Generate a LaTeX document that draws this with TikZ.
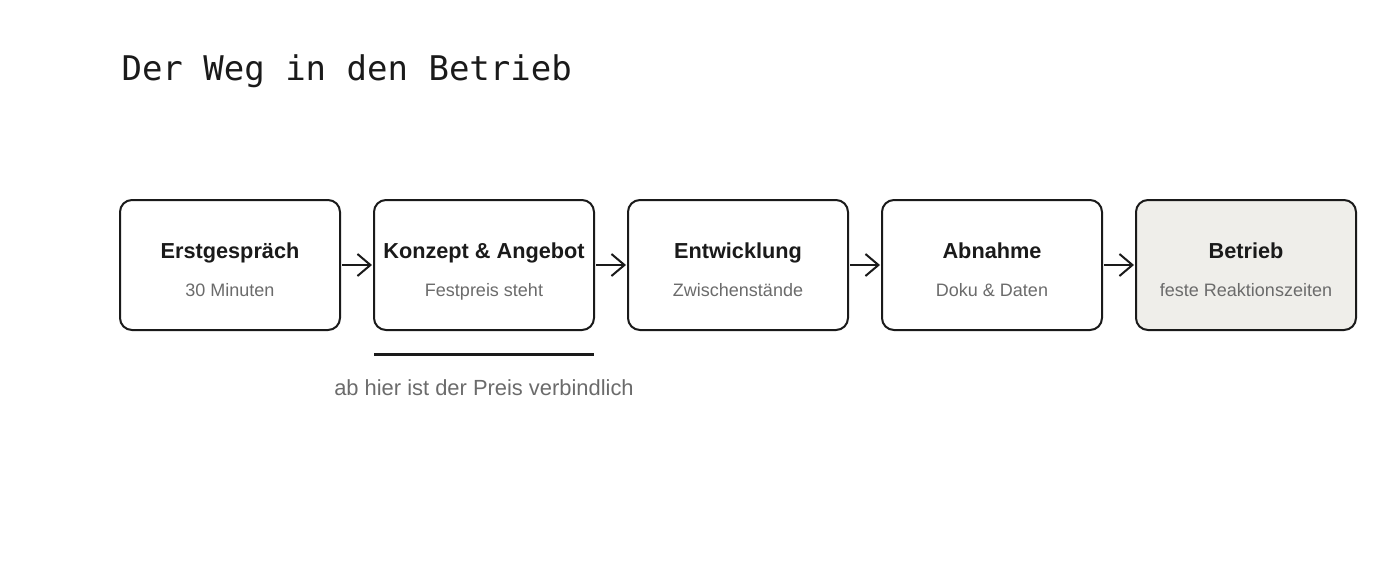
\documentclass[tikz,border=0pt]{standalone}
\usepackage{fontspec}
\setmainfont{Liberation Sans}
\newfontfamily\titlefont{DejaVu Sans Mono}
\usetikzlibrary{arrows.meta}
\definecolor{ink}{HTML}{1A1A1A}
\definecolor{subgray}{HTML}{6B6B6B}
\definecolor{lastfill}{HTML}{EFEEEA}
\begin{document}
\begin{tikzpicture}[x=1pt,y=-1pt,
  stepbox/.style={draw=ink, line width=2pt, rounded corners=12pt, minimum width=220pt, minimum height=130pt, fill=white, inner sep=0pt},
  steptitle/.style={font=\fontsize{21.7}{26}\selectfont\bfseries, text=ink, anchor=base},
  stepsub/.style={font=\fontsize{18}{21}\selectfont, text=subgray, anchor=base},
  flow/.style={draw=ink, line width=2pt, -{Straight Barb[length=13pt,width=22pt,line width=2pt]}}
]
\useasboundingbox (0,0) rectangle (1400,560);
\node[anchor=base west, font=\titlefont\fontsize{34}{40}\selectfont, text=ink] (title) at (118,80) {Der Weg in den Betrieb};
\node[stepbox] (b1) at (230,265) {};
\node[stepbox] (b2) at (484,265) {};
\node[stepbox] (b3) at (738,265) {};
\node[stepbox] (b4) at (992,265) {};
\node[stepbox, fill=lastfill] (b5) at (1246,265) {};
\foreach \n/\t/\s in {b1/Erstgespräch/30 Minuten, b2/Konzept \& Angebot/Festpreis steht, b3/Entwicklung/Zwischenstände, b4/Abnahme/Doku \& Daten, b5/Betrieb/feste Reaktionszeiten}{
  \node[steptitle] (\n t) at ([yshift=7pt]\n.center) {\t};
  \node[stepsub] (\n s) at ([yshift=-31pt]\n.center) {\s};
}
\draw[flow] (b1.east) ++(1pt,0) -- ([xshift=-1pt]b2.west);
\draw[flow] (b2.east) ++(1pt,0) -- ([xshift=-1pt]b3.west);
\draw[flow] (b3.east) ++(1pt,0) -- ([xshift=-1pt]b4.west);
\draw[flow] (b4.east) ++(1pt,0) -- ([xshift=-1pt]b5.west);
\coordinate (l1) at (374,354);
\coordinate (l2) at (594,354);
\draw[ink, line width=3pt] (l1) -- (l2);
\node[font=\fontsize{21.9}{26}\selectfont, text=subgray, anchor=base] (note) at (484,395) {ab hier ist der Preis verbindlich};
\end{tikzpicture}
\end{document}
